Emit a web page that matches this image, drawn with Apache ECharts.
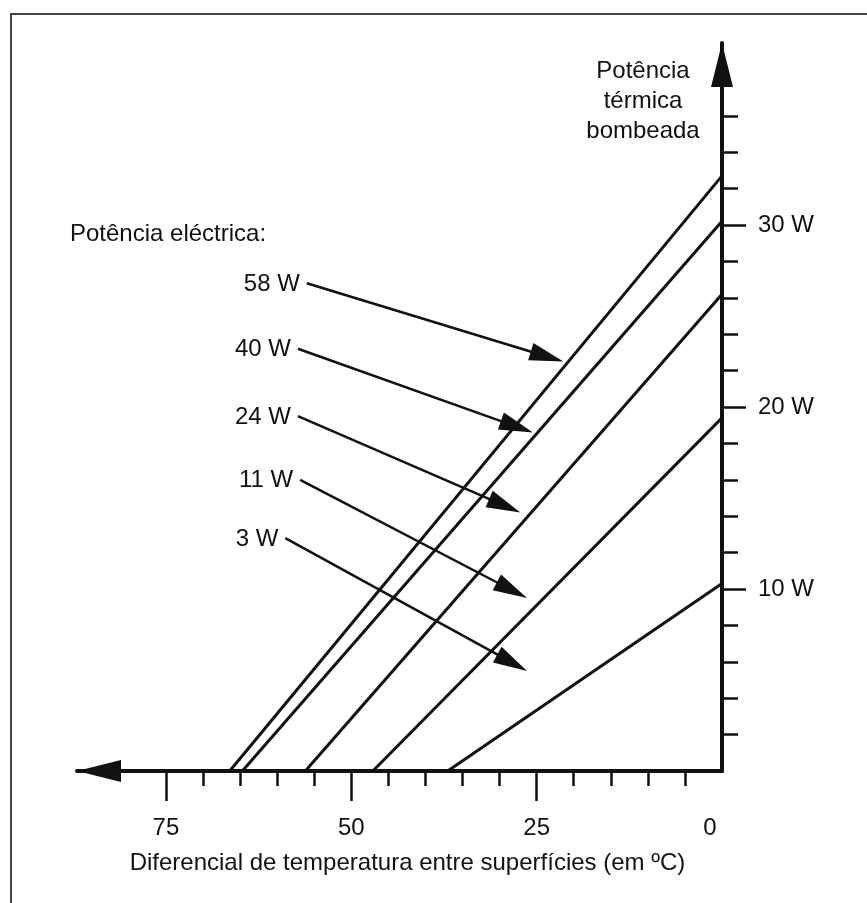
<!DOCTYPE html>
<html><head><meta charset="utf-8">
<script src="https://cdn.jsdelivr.net/npm/echarts@6/dist/echarts.min.js"></script>
<style>html,body{margin:0;padding:0;background:#fff}#c{width:867px;height:903px}</style>
</head><body><div id="c"></div>
<script>
// ---- data ----
const powerLabels = ['58 W', '40 W', '24 W', '11 W', '3 W'];
const xIntercepts = [66.4, 64.7, 56.2, 47.1, 37.0];   // temperature differential at zero pumped power
const yIntercepts = [32.7, 30.2, 26.2, 19.4, 10.3];   // pumped power at zero differential
const arrowStartX = [56.0, 57.2, 57.2, 56.9, 58.9];
const arrowStartY = [26.8, 23.2, 19.5, 16.0, 12.8];
const arrowEndX = [21.4, 25.5, 27.2, 26.3, 26.3];
const arrowEndY = [22.5, 18.6, 14.2, 9.5, 5.5];
const xTickLabels = [0, 25, 50, 75];
const xMajorTicks = [25, 50, 75];
const xMinorTicks = [5, 10, 15, 20, 30, 35, 40, 45, 55, 60, 65, 70];
const yMajorTicks = [10, 20, 30];
const yMinorTicks = [2, 4, 6, 8, 12, 14, 16, 18, 22, 24, 26, 28, 32, 34, 36];
const xTitle = 'Diferencial de temperatura entre superfícies (em ºC)';
const yTitle = 'Potência\ntérmica\nbombeada';
const legendTitle = 'Potência eléctrica:';

// ---- chart ----
const FONT = "'Liberation Sans', Arial, Helvetica, sans-serif";
const INK = '#111';
const chart = echarts.init(document.getElementById('c'), null, { renderer: 'canvas' });

const lineSeries = powerLabels.map((name, i) => ({
  type: 'line', name, xAxisIndex: 0, yAxisIndex: 0,
  data: [[xIntercepts[i], 0], [0, yIntercepts[i]]],
  symbol: 'none', showSymbol: false, silent: true,
  lineStyle: { color: INK, width: 3 }, z: 3
}));

const arrowSeries = {
  type: 'custom', xAxisIndex: 0, yAxisIndex: 0, silent: true, z: 4, clip: false,
  encode: { x: [0, 2], y: [1, 3] },
  data: powerLabels.map((n, i) => [arrowStartX[i], arrowStartY[i], arrowEndX[i], arrowEndY[i]]),
  renderItem: (params, api) => {
    const p1 = api.coord([api.value(0), api.value(1)]);
    const p2 = api.coord([api.value(2), api.value(3)]);
    const dx = p2[0] - p1[0], dy = p2[1] - p1[1];
    const L = Math.hypot(dx, dy), ux = dx / L, uy = dy / L;
    const HL = 34, HW = 9;
    const bx = p2[0] - ux * HL, by = p2[1] - uy * HL;
    return {
      type: 'group', children: [
        { type: 'line', shape: { x1: p1[0], y1: p1[1], x2: bx + ux * 3, y2: by + uy * 3 }, style: { stroke: INK, lineWidth: 2.5 } },
        { type: 'polygon', shape: { points: [[p2[0], p2[1]], [bx - uy * HW, by + ux * HW], [bx + uy * HW, by - ux * HW]] }, style: { fill: INK } },
        { type: 'text', x: p1[0] - 7, y: p1[1] + 1, style: { text: powerLabels[params.dataIndex], textAlign: 'right', textVerticalAlign: 'middle', fill: INK, font: '24px ' + FONT } }
      ]
    };
  }
};

const tickStyle = { color: INK, width: 2.5 };
const textStyle = { color: INK, fontSize: 24, fontFamily: FONT };

chart.setOption({
  animation: false,
  backgroundColor: '#fff',
  grid: { left: 77, right: 145, top: 43, bottom: 132, containLabel: false },
  xAxis: [
    {
      type: 'value', min: 0, max: 87, inverse: true, position: 'bottom',
      axisLine: { show: true, onZero: false, symbol: ['triangle', 'none'], symbolSize: [22, 44], symbolOffset: [22, 0], lineStyle: { color: INK, width: 4 } },
      axisTick: { show: true, customValues: xMinorTicks, length: 15, lineStyle: tickStyle },
      axisLabel: { show: false }, splitLine: { show: false },
      name: xTitle, nameLocation: 'middle', nameGap: 80, nameTextStyle: { ...textStyle, padding: [0, 0, 0, 16] }
    },
    {
      type: 'value', min: 0, max: 87, inverse: true, position: 'bottom',
      axisLine: { show: false, onZero: false },
      axisTick: { show: true, customValues: xMajorTicks, length: 30, lineStyle: tickStyle },
      axisLabel: {
        show: true, customValues: xTickLabels, margin: 45, ...textStyle,
        formatter: v => (v === 0 ? '{z|0}' : String(v)),
        rich: { z: { ...textStyle, padding: [0, 24, 0, 0] } }
      },
      splitLine: { show: false }
    }
  ],
  yAxis: [
    {
      type: 'value', min: 0, max: 40, position: 'right',
      axisLine: { show: true, onZero: false, symbol: ['none', 'triangle'], symbolSize: [22, 44], symbolOffset: [0, -22], lineStyle: { color: INK, width: 4 } },
      axisTick: { show: true, customValues: yMinorTicks, length: 16, lineStyle: tickStyle },
      axisLabel: { show: false }, splitLine: { show: false }
    },
    {
      type: 'value', min: 0, max: 40, position: 'right',
      axisLine: { show: false, onZero: false },
      axisTick: { show: true, customValues: yMajorTicks, length: 24, lineStyle: tickStyle },
      axisLabel: { show: true, customValues: yMajorTicks, formatter: '{value} W', margin: 36, ...textStyle },
      splitLine: { show: false }
    }
  ],
  graphic: [
    { type: 'rect', shape: { x: 11, y: 14, width: 900, height: 950 }, style: { fill: 'none', stroke: '#444', lineWidth: 2 }, silent: true },
    { type: 'text', x: 643, y: 56, style: { text: yTitle, textAlign: 'center', textVerticalAlign: 'top', fill: INK, font: '24px ' + FONT, lineHeight: 30 } },
    { type: 'text', x: 70, y: 234, style: { text: legendTitle, textAlign: 'left', textVerticalAlign: 'middle', fill: INK, font: '24px ' + FONT } }
  ],
  series: [...lineSeries, arrowSeries]
});
</script>
</body></html>
